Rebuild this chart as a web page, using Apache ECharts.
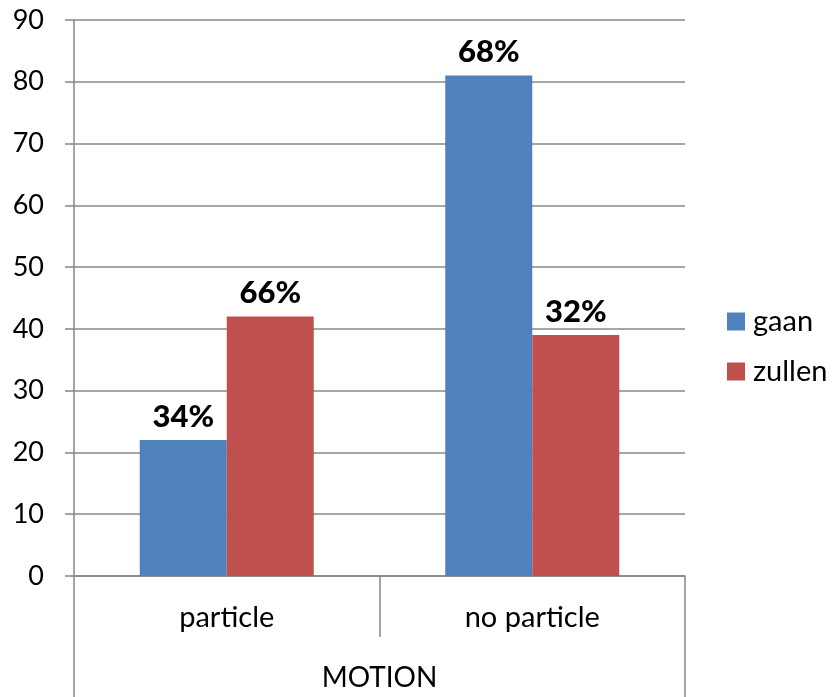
<!DOCTYPE html>
<html>
<head>
<meta charset="utf-8">
<script src="https://cdn.jsdelivr.net/npm/echarts@6/dist/echarts.min.js"></script>
<style>
  html, body { margin: 0; padding: 0; background: #fff; }
  #chart { width: 833px; height: 697px; }
</style>
</head>
<body>
<div id="chart"></div>
<script>
// Categories and grouping
const categories = ['particle', 'no particle'];
const groupLabel = ['MOTION'];

// Counts per series
const gaanValues = [22, 81];
const zullenValues = [42, 39];

// Share labels shown above each bar
const gaanLabels = ['34%', '68%'];
const zullenLabels = ['66%', '32%'];

const FONT = 'Lato, "Open Sans", sans-serif';
const LINE = '#888888';

const chart = echarts.init(document.getElementById('chart'));

function labelled(values, labels) {
  return values.map((v, i) => ({ value: v, label: { formatter: labels[i] } }));
}

const barLabel = {
  show: true,
  position: 'top',
  distance: 8,
  fontFamily: FONT,
  fontWeight: 900,
  fontSize: 31,
  color: '#000'
};

chart.setOption({
  animation: false,
  backgroundColor: '#fff',
  grid: { left: 74, right: 148, top: 20, bottom: 121 },
  legend: {
    orient: 'vertical',
    left: 727,
    top: 307,
    padding: 0,
    itemWidth: 18,
    itemHeight: 18,
    itemGap: 21,
    icon: 'rect',
    textStyle: { fontFamily: FONT, fontSize: 29, color: '#000', padding: [0, 0, 0, 3] },
    data: ['gaan', 'zullen']
  },
  xAxis: [
    {
      type: 'category',
      data: categories,
      axisLine: { show: true, lineStyle: { color: LINE, width: 1.5 } },
      axisTick: { show: true, length: 61, interval: 0, alignWithLabel: false, lineStyle: { color: LINE, width: 1.5 } },
      axisLabel: { fontFamily: FONT, fontSize: 29, color: '#000', margin: 27 }
    },
    {
      type: 'category',
      data: groupLabel,
      position: 'bottom',
      offset: 61,
      axisLine: { show: false },
      axisTick: { show: true, length: 60, lineStyle: { color: LINE, width: 1.5 } },
      axisLabel: { fontFamily: FONT, fontSize: 28, color: '#000', margin: 27 }
    }
  ],
  yAxis: {
    type: 'value',
    min: 0,
    max: 90,
    interval: 10,
    axisLine: { show: true, lineStyle: { color: LINE, width: 1.5 } },
    axisTick: { show: true, length: 9, lineStyle: { color: LINE, width: 1.5 } },
    splitLine: { show: true, lineStyle: { color: LINE, width: 1.5 } },
    axisLabel: { fontFamily: FONT, fontSize: 27, color: '#000', margin: 30 }
  },
  series: [
    {
      name: 'gaan',
      type: 'bar',
      xAxisIndex: 0,
      barWidth: 87,
      barGap: '0%',
      itemStyle: { color: '#4F81BD' },
      label: barLabel,
      data: labelled(gaanValues, gaanLabels)
    },
    {
      name: 'zullen',
      type: 'bar',
      xAxisIndex: 0,
      barWidth: 87,
      barGap: '0%',
      itemStyle: { color: '#C0504D' },
      label: barLabel,
      data: labelled(zullenValues, zullenLabels)
    }
  ]
});
</script>
</body>
</html>
